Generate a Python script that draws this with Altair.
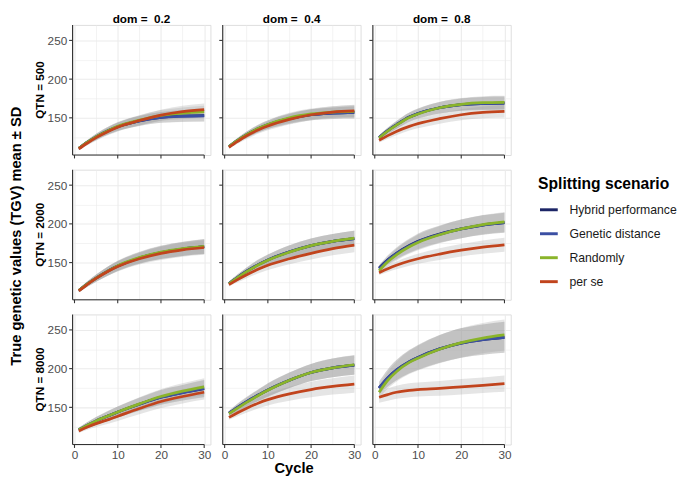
import altair as alt
import pandas as pd

cycles = [1, 3, 5, 8, 10, 15, 20, 25, 30]
scenarios = ["Hybrid performance", "Genetic distance", "Randomly", "per se"]
colors = ["#1c2566", "#3b4fa3", "#8ab42a", "#c1441d"]
qtn_labels = ["QTN = 500", "QTN = 2000", "QTN = 8000"]
dom_labels = ["dom = \u00a00.2", "dom = \u00a00.4", "dom = \u00a00.8"]

# ---- QTN = 500 ----
q500_d02_hyb = [110.5, 118.5, 125.5, 134, 138.5, 146, 150.5, 152.5, 153]
q500_d02_gen = [110.5, 118.5, 125.5, 134, 138.5, 146, 150.5, 152, 152.5]
q500_d02_ran = [110.5, 118.5, 125.5, 134, 139, 147, 153, 156, 158]
q500_d02_per = [110, 117.5, 124.5, 133, 138, 146.5, 153.5, 158, 160.5]
q500_d02_sd_sel = [2, 3, 4, 5, 5.5, 6.5, 7, 7.5, 7.5]
q500_d02_sd_per = [2, 3, 4, 5, 5.5, 6.5, 7, 7.5, 8]

q500_d04_hyb = [113, 121, 128, 136.5, 141, 149, 154, 156, 157]
q500_d04_gen = [113, 121, 128, 136.5, 141, 149, 154, 156, 157]
q500_d04_ran = [113, 121, 128, 137, 141.5, 150, 155, 157.5, 158.5]
q500_d04_per = [112, 119.5, 126.5, 135, 139.5, 148, 154, 157.5, 159]
q500_d04_sd_sel = [2, 3, 4, 5, 5.5, 6.5, 7, 7.5, 8]
q500_d04_sd_per = [2, 3, 4, 5, 5.5, 6.5, 7, 7.5, 8]

q500_d08_hyb = [124.5, 133.5, 141, 151, 155.5, 163, 167, 168.5, 169]
q500_d08_gen = [124.5, 133.5, 141, 151, 155.5, 163, 167, 168.5, 169]
q500_d08_ran = [124, 133, 140.5, 150.5, 155, 163, 167.5, 169.5, 170]
q500_d08_per = [121, 127, 132.5, 139, 142.5, 149, 154, 157, 158.5]
q500_d08_sd_sel = [3, 4, 5, 6, 6.5, 7.5, 8, 8.5, 8.5]
q500_d08_sd_per = [3, 4, 5, 5.5, 6, 6.5, 7, 7.5, 8]

# ---- QTN = 2000 ----
q2000_d02_hyb = [114, 122.5, 130, 140, 145.5, 156, 163, 167.5, 170.5]
q2000_d02_gen = [114, 122.5, 130, 140, 145.5, 156, 163, 167.5, 170.5]
q2000_d02_ran = [114, 122.5, 130, 140, 146, 156.5, 163.5, 168, 171]
q2000_d02_per = [113.5, 122, 129.5, 139.5, 145, 155, 162, 166.5, 169.5]
q2000_d02_sd_sel = [2, 3.5, 4.5, 6, 6.5, 7.5, 8.5, 9, 9.5]
q2000_d02_sd_per = [2, 3.5, 4.5, 6, 6.5, 7.5, 8.5, 9, 9.5]

q2000_d04_hyb = [123, 131, 138.5, 148, 153.5, 164, 172, 177.5, 181]
q2000_d04_gen = [123, 131, 138.5, 148, 153.5, 164, 172, 177.5, 181]
q2000_d04_ran = [122.5, 130.5, 138, 147.5, 153, 163.5, 172, 177.5, 181.5]
q2000_d04_per = [121.5, 128, 134, 142, 146.5, 155, 162, 168, 172.5]
q2000_d04_sd_sel = [2.5, 4, 5, 6.5, 7, 8.5, 9, 9.5, 10]
q2000_d04_sd_per = [2.5, 3.5, 4.5, 5.5, 6, 7, 8, 8.5, 9]

q2000_d08_hyb = [143, 153.5, 162, 172, 177.5, 187, 193.5, 198.5, 201.5]
q2000_d08_gen = [142, 153, 161.5, 171.5, 177, 186.5, 193.5, 198.5, 201.5]
q2000_d08_ran = [139.5, 151, 160, 170.5, 176, 186, 193.5, 199, 202.5]
q2000_d08_per = [137, 142, 146.5, 152, 155, 161, 166, 170, 173]
q2000_d08_sd_sel = [4, 6, 7.5, 9, 10, 11, 12, 12.5, 13]
q2000_d08_sd_per = [3, 4, 5, 6, 6.5, 7.5, 8, 8.5, 9]

# ---- QTN = 8000 ----
q8000_d02_hyb = [121, 127, 132.5, 139.5, 144, 154, 163, 169, 174]
q8000_d02_gen = [121, 127, 132.5, 139.5, 144, 154, 163, 169, 174.5]
q8000_d02_ran = [121, 127, 132.5, 139.5, 144, 154.5, 164, 171, 176.5]
q8000_d02_per = [119.5, 124.5, 129, 134.5, 138.5, 148.5, 157.5, 164, 169.5]
q8000_d02_sd_sel = [2.5, 4, 5, 6.5, 7, 8.5, 9.5, 10, 11]
q8000_d02_sd_per = [2.5, 3.5, 4.5, 5.5, 6, 7.5, 8.5, 9, 9.5]

q8000_d04_hyb = [142.5, 150, 157, 166.5, 172.5, 185, 195, 201, 204.5]
q8000_d04_gen = [142.5, 150, 157, 166.5, 172.5, 185, 195, 201, 204.5]
q8000_d04_ran = [142, 149, 156, 166, 172, 185, 195, 201, 205]
q8000_d04_per = [137, 143, 148.5, 156, 160, 167.5, 173, 177, 180]
q8000_d04_sd_sel = [3, 5, 6, 7.5, 8.5, 10, 11, 12, 12.5]
q8000_d04_sd_per = [3, 4.5, 5.5, 7, 7.5, 9, 10, 10.5, 11]

q8000_d08_hyb = [175, 188, 198, 209, 214.5, 225.5, 233, 237.5, 240.5]
q8000_d08_gen = [175, 188, 198, 209, 214.5, 225.5, 233, 237.5, 240.5]
q8000_d08_ran = [169.5, 185, 196, 208, 213.5, 225, 233.5, 239.5, 243.5]
q8000_d08_per = [163, 166.5, 169.5, 172, 173, 174.5, 176.5, 178.5, 180.5]
q8000_d08_sd_sel = [8, 11, 13, 15, 16, 18, 19, 19.5, 20]
q8000_d08_sd_per = [7, 8, 8.5, 9, 9, 9.5, 10, 10, 10.5]

panels = [
    ("QTN = 500", dom_labels[0], [q500_d02_hyb, q500_d02_gen, q500_d02_ran, q500_d02_per], q500_d02_sd_sel, q500_d02_sd_per),
    ("QTN = 500", dom_labels[1], [q500_d04_hyb, q500_d04_gen, q500_d04_ran, q500_d04_per], q500_d04_sd_sel, q500_d04_sd_per),
    ("QTN = 500", dom_labels[2], [q500_d08_hyb, q500_d08_gen, q500_d08_ran, q500_d08_per], q500_d08_sd_sel, q500_d08_sd_per),
    ("QTN = 2000", dom_labels[0], [q2000_d02_hyb, q2000_d02_gen, q2000_d02_ran, q2000_d02_per], q2000_d02_sd_sel, q2000_d02_sd_per),
    ("QTN = 2000", dom_labels[1], [q2000_d04_hyb, q2000_d04_gen, q2000_d04_ran, q2000_d04_per], q2000_d04_sd_sel, q2000_d04_sd_per),
    ("QTN = 2000", dom_labels[2], [q2000_d08_hyb, q2000_d08_gen, q2000_d08_ran, q2000_d08_per], q2000_d08_sd_sel, q2000_d08_sd_per),
    ("QTN = 8000", dom_labels[0], [q8000_d02_hyb, q8000_d02_gen, q8000_d02_ran, q8000_d02_per], q8000_d02_sd_sel, q8000_d02_sd_per),
    ("QTN = 8000", dom_labels[1], [q8000_d04_hyb, q8000_d04_gen, q8000_d04_ran, q8000_d04_per], q8000_d04_sd_sel, q8000_d04_sd_per),
    ("QTN = 8000", dom_labels[2], [q8000_d08_hyb, q8000_d08_gen, q8000_d08_ran, q8000_d08_per], q8000_d08_sd_sel, q8000_d08_sd_per),
]

rows = []
for qtn, dom, series, sd_sel, sd_per in panels:
    for scen, vals in zip(scenarios, series):
        sds = sd_per if scen == "per se" else sd_sel
        for c, m, s in zip(cycles, vals, sds):
            rows.append({"qtn": qtn, "dom": dom, "scenario": scen, "cycle": c,
                         "mean": m, "lo": m - s, "hi": m + s})
df = pd.DataFrame(rows)

W, H = 141, 133
YMIN, YMAX = 102, 270
FONT = "Liberation Sans"

xs = alt.Scale(domain=[-0.45, 31.45], nice=False, zero=False)
ys = alt.Scale(domain=[YMIN, YMAX], nice=False, zero=False)

x_axis = alt.Axis(
    values=[0, 5, 10, 15, 20, 25, 30],
    labelExpr="datum.value % 10 == 0 ? datum.label : ''",
    title=None, domain=False, ticks=False, tickSize=0, labelPadding=0,
    gridColor="#ebebeb",
    gridWidth={"condition": {"test": "datum.value % 10 == 0", "value": 1.1}, "value": 0.6},
    labelFontSize=12, labelColor="#4d4d4d", labelFont=FONT,
)
y_axis = alt.Axis(
    values=[125, 150, 175, 200, 225, 250],
    labelExpr="datum.value % 50 == 0 ? datum.label : ''",
    title=None, domain=False, ticks=False, tickSize=0, labelPadding=1,
    gridColor="#ebebeb",
    gridWidth={"condition": {"test": "datum.value % 50 == 0", "value": 1.1}, "value": 0.6},
    labelFontSize=12, labelColor="#4d4d4d", labelFont=FONT,
)

base = alt.Chart()

band = base.mark_area(color="#999999", opacity=0.25, interpolate="monotone").encode(
    x=alt.X("cycle:Q", scale=xs, axis=x_axis),
    y=alt.Y("lo:Q", scale=ys, axis=y_axis),
    y2="hi:Q",
    detail="scenario:N",
)

legend = alt.Legend(
    title="Splitting scenario", orient="none", legendX=476, legendY=155, padding=0,
    titleFontSize=16, titleFontWeight="bold", titleColor="black", titleFont=FONT,
    labelFontSize=12.5, labelColor="#1a1a1a", labelFont=FONT,
    symbolType="stroke", symbolStrokeWidth=3, symbolSize=330,
    rowPadding=6.5, labelOffset=10, titlePadding=7,
)

line_layers = []
for s in scenarios:
    line_layers.append(
        base.transform_filter(alt.datum.scenario == s)
        .mark_line(strokeWidth=2.8, interpolate="monotone")
        .encode(
            x=alt.X("cycle:Q", scale=xs, axis=x_axis),
            y=alt.Y("mean:Q", scale=ys, axis=y_axis),
            color=alt.Color("scenario:N", scale=alt.Scale(domain=scenarios, range=colors), legend=legend),
        )
    )

one = base.transform_filter((alt.datum.scenario == "per se") & (alt.datum.cycle == 1))

xline = one.mark_rule(color="#333333", strokeWidth=1.1).encode(
    x=alt.X(datum=-0.45, scale=xs, axis=x_axis),
    x2=alt.X2(datum=30),
    y=alt.value(H),
)
xticks = one.transform_calculate(t="[0, 10, 20, 30]").transform_flatten(["t"]).mark_rule(
    color="#333333", strokeWidth=1.1
).encode(
    x=alt.X("t:Q", scale=xs, axis=x_axis),
    y=alt.value(H),
    y2=alt.value(H + 3.5),
)
yline = one.mark_rule(color="#333333", strokeWidth=1.1).encode(
    x=alt.value(0), y=alt.value(0), y2=alt.value(H),
)
yticks = one.transform_calculate(t="[150, 200, 250]").transform_flatten(["t"]).mark_rule(
    color="#333333", strokeWidth=1.1
).encode(
    y=alt.Y("t:Q", scale=ys, axis=y_axis),
    x=alt.value(-3.5),
    x2=alt.value(0),
)

layered = alt.layer(band, *line_layers, xline, xticks, yline, yticks).properties(width=W, height=H)

chart = layered.facet(
    data=df,
    row=alt.Row(
        "qtn:N", sort=qtn_labels,
        header=alt.Header(
            title="True genetic values (TGV) mean ± SD", titleOrient="left",
            titleFontSize=15, titleFontWeight="bold", titleColor="black", titleFont=FONT,
            titlePadding=0,
            labelOrient="left", labelFontSize=12, labelFontWeight="bold", labelColor="black",
            labelFont=FONT, labelPadding=0,
        ),
    ),
    column=alt.Column(
        "dom:N", sort=dom_labels,
        header=alt.Header(
            title=None,
            labelOrient="top", labelFontSize=12, labelFontWeight="bold", labelColor="black",
            labelFont=FONT, labelPadding=-3,
        ),
    ),
    spacing={"row": 8, "column": 6.5},
).properties(
    padding={"left": 0, "top": 0, "right": 0, "bottom": 0},
    title=alt.TitleParams(
        "Cycle", orient="bottom", anchor="middle", fontSize=15, fontWeight="bold",
        color="black", font=FONT, offset=1, dx=-50,
    ),
).configure_view(stroke=None).configure(font=FONT, background="white")

chart.save("out.html", embed_options={"renderer": "svg", "actions": False})
